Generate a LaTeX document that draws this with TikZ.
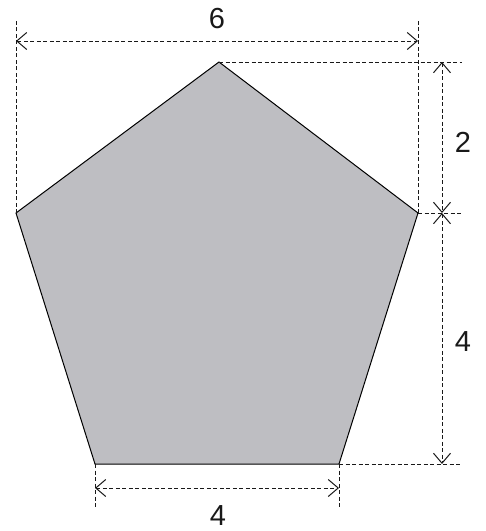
\documentclass[tikz,border=0pt]{standalone}
\usepackage{fontspec}
\setmainfont{Liberation Sans}
\usetikzlibrary{arrows.meta}
\usetikzlibrary{calc}

\begin{document}
\begin{tikzpicture}[x=1pt,y=-1pt]
\tikzstyle{piece}=[draw=black,line width=1pt,fill={rgb,255:red,190;green,190;blue,194},line join=miter]
\tikzstyle{rappel}=[dashed,dash pattern=on 4pt off 2.5pt,line width=1pt,black!90]
\tikzstyle{cote}=[rappel,{Straight Barb[length=10pt,width=17pt,line width=1pt]}-{Straight Barb[length=10pt,width=17pt,line width=1pt]}]
\tikzstyle{mesure}=[font=\fontsize{29}{34}\selectfont,text=black!90,inner sep=0pt]
\useasboundingbox (0,0) rectangle (486,531);
%sommetsdupentagone
\coordinate (haut) at (219,62);
\coordinate (droite) at (418,213);
\coordinate (basdroite) at (339,464);
\coordinate (basgauche) at (95,464);
\coordinate (gauche) at (16,213);
%extremitesdeslignesderappel
\coordinate (gh) at (16,21);
\coordinate (dh) at (418,21);
\coordinate (hr) at (462,62);
\coordinate (dr) at (462,213);
\coordinate (bdr) at (462,464);
\coordinate (bgb) at (95,507);
\coordinate (bdb) at (339,507);
%extremitesdescotes
\coordinate (c6a) at (16,41);
\coordinate (c6b) at (418,41);
\coordinate (c2a) at (442,62);
\coordinate (c2b) at (442,213);
\coordinate (c4a) at (442,464);
\coordinate (c4b) at (95,488);
\coordinate (c4c) at (339,488);
%pentagone
\draw[piece] (haut) -- (droite) -- (basdroite) -- (basgauche) -- (gauche) -- cycle;
%lignesderappel
\draw[rappel] (gauche) -- (gh);
\draw[rappel] (droite) -- (dh);
\draw[rappel] (haut) -- (hr);
\draw[rappel] (droite) -- (dr);
\draw[rappel] (basdroite) -- (bdr);
\draw[rappel] (basgauche) -- (bgb);
\draw[rappel] (basdroite) -- (bdb);
%cotes
\draw[cote] (c6a) -- (c6b);
\draw[cote] (c2a) -- (c2b);
\draw[cote] (c2b) -- (c4a);
\draw[cote] (c4b) -- (c4c);
%valeurs
\node[mesure] (six) at (217,19) {6};
\node[mesure] (deux) at (463,142) {2};
\node[mesure] (quatred) at (463,342) {4};
\node[mesure] (quatreb) at (218,515.5) {4};
\end{tikzpicture}
\end{document}
